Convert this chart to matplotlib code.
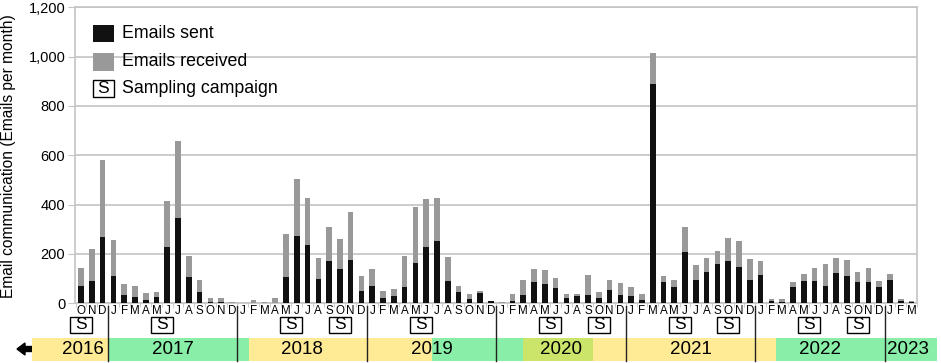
import matplotlib
matplotlib.use("Agg")
import matplotlib.pyplot as plt
from matplotlib.patches import Rectangle, FancyArrow
from matplotlib.lines import Line2D
from matplotlib.transforms import blended_transform_factory
import numpy as np

plt.rcParams['font.family'] = ['Liberation Sans', 'DejaVu Sans']

# Months Oct 2016 .. Mar 2023
month_labels = (["O", "N", "D"] + ["J", "F", "M", "A", "M", "J", "J", "A", "S", "O", "N", "D"] * 6
                + ["J", "F", "M"])

totals = [142, 220, 580,
          258, 80, 70, 40, 46, 415, 659, 190, 93, 22, 22, 4,
          3, 12, 5, 20, 280, 505, 426, 182, 308, 259, 369, 111,
          140, 50, 59, 192, 389, 423, 426, 189, 69, 36, 50, 11,
          7, 36, 96, 139, 134, 103, 36, 38, 113, 47, 96, 82,
          68, 38, 1016, 112, 93, 308, 155, 182, 212, 265, 251, 178,
          172, 16, 16, 88, 119, 142, 158, 182, 176, 127, 143, 91,
          119, 19, 11]
sent = [70, 89, 269,
        109, 35, 27, 12, 26, 230, 345, 105, 46, 7, 7, 2,
        1, 3, 1, 2, 108, 272, 236, 100, 172, 138, 177, 49,
        69, 20, 30, 65, 163, 227, 251, 92, 46, 18, 42, 8,
        3, 11, 34, 86, 77, 61, 20, 31, 32, 23, 55, 34,
        30, 15, 890, 86, 65, 207, 95, 127, 161, 173, 147, 95,
        115, 9, 7, 68, 91, 92, 70, 124, 109, 85, 86, 65,
        93, 9, 5]
received = [t - s for t, s in zip(totals, sent)]

campaign_pos = [0, 7.5, 19.5, 24, 31.5, 43.5, 48, 55.5, 60, 67.5, 72]
year_lines = [2.5, 14.5, 26.5, 38.5, 50.5, 62.5, 74.5]
year_names = ["2016", "2017", "2018", "2019", "2020", "2021", "2022", "2023"]
year_label_pos = [0.15, 8.5, 20.5, 32.5, 44.5, 56.5, 68.5, 76.7]
band_edges = [-4.57, 2.5, 15.57, 32.56, 40.94, 47.48, 64.4, 79.4]
band_colors = ["#FFEB96", "#88EEA8", "#FFEB96", "#88EEA8", "#CBE56A", "#FFEB96", "#88EEA8"]

W, H = 941, 363
fig = plt.figure(figsize=(W / 100, H / 100), dpi=100)
ax = fig.add_axes([75 / W, 1 - 303.3 / H, (917 - 75) / W, (303.3 - 7.3) / H])

x = np.arange(len(totals))
ax.bar(x, sent, width=0.52, color="#111111", zorder=3)
ax.bar(x, received, bottom=sent, width=0.52, color="#999999", zorder=3)

ax.set_xlim(-0.556, 77.48)
ax.set_ylim(0, 1200)
ax.set_yticks(np.arange(0, 1201, 200))
ax.set_yticklabels([f"{v:,}" for v in range(0, 1201, 200)], fontsize=10.5)
ax.yaxis.grid(True, color="#c4c4c4", linewidth=1.2, zorder=0)
ax.set_axisbelow(True)
for s in ["left", "right", "top", "bottom"]:
    ax.spines[s].set_color("#c4c4c4")
    ax.spines[s].set_linewidth(1.2)
ax.tick_params(axis="y", length=5, color="#c4c4c4", pad=2)

ax.set_xticks(x)
ax.set_xticklabels(month_labels, fontsize=8.4)
ax.tick_params(axis="x", length=0, pad=1.0)
ax.set_xticks(np.arange(-0.5, len(totals), 1), minor=True)
ax.tick_params(axis="x", which="minor", length=3, color="#c4c4c4")

blend = blended_transform_factory(ax.transData, fig.transFigure)

def fy(py):
    return 1 - py / H

# year bands
for i, c in enumerate(band_colors):
    fig.patches.append(Rectangle((band_edges[i], fy(360.7)), band_edges[i + 1] - band_edges[i],
                                 (360.7 - 337.7) / H, transform=blend, facecolor=c,
                                 edgecolor="none", zorder=1))
for name, p in zip(year_names, year_label_pos):
    fig.text(p, fy(349.3), name, transform=blend, ha="center", va="center", fontsize=13.5, zorder=3)

# year separator lines
for p in year_lines:
    fig.add_artist(Line2D([p, p], [fy(306), fy(361)], transform=blend, color="#222222",
                          linewidth=1.0, zorder=4))

# sampling campaign boxes
bw = 22 / 10.79
for p in campaign_pos:
    fig.patches.append(Rectangle((p - bw / 2, fy(332.7)), bw, 16 / H, transform=blend,
                                 facecolor="white", edgecolor="black", linewidth=1.0, zorder=3))
    fig.text(p, fy(324.7), "S", transform=blend, ha="center", va="center", fontsize=12.5, zorder=4)

# arrow
fig.add_artist(FancyArrow(37 / W, fy(349), -20 / W, 0, width=5 / H, head_width=12 / H,
                          head_length=8 / W, length_includes_head=True, transform=fig.transFigure,
                          color="black"))

# y label
fig.text(9 / W, fy(156), "Email communication (Emails per month)", rotation=90,
         ha="center", va="center", fontsize=11.2)

# legend
def fx(px):
    return px / W
fig.patches.append(Rectangle((fx(92.7), fy(42.3)), 21.3 / W, 17.3 / H, transform=fig.transFigure,
                             facecolor="#111111", edgecolor="none", zorder=5))
fig.patches.append(Rectangle((fx(92.7), fy(70.7)), 21.3 / W, 17.3 / H, transform=fig.transFigure,
                             facecolor="#999999", edgecolor="none", zorder=5))
fig.patches.append(Rectangle((fx(92.7), fy(96.7)), 21.3 / W, 16.7 / H, transform=fig.transFigure,
                             facecolor="white", edgecolor="black", linewidth=1.0, zorder=5))
fig.text(fx(103.3), fy(88.3), "S", ha="center", va="center", fontsize=12.5, zorder=6)
for t, py in [("Emails sent", 33.3), ("Emails received", 62), ("Sampling campaign", 88.5)]:
    fig.text(fx(121.7), fy(py), t, ha="left", va="center", fontsize=12.8, zorder=6)

fig.savefig("out.png", dpi=100)
